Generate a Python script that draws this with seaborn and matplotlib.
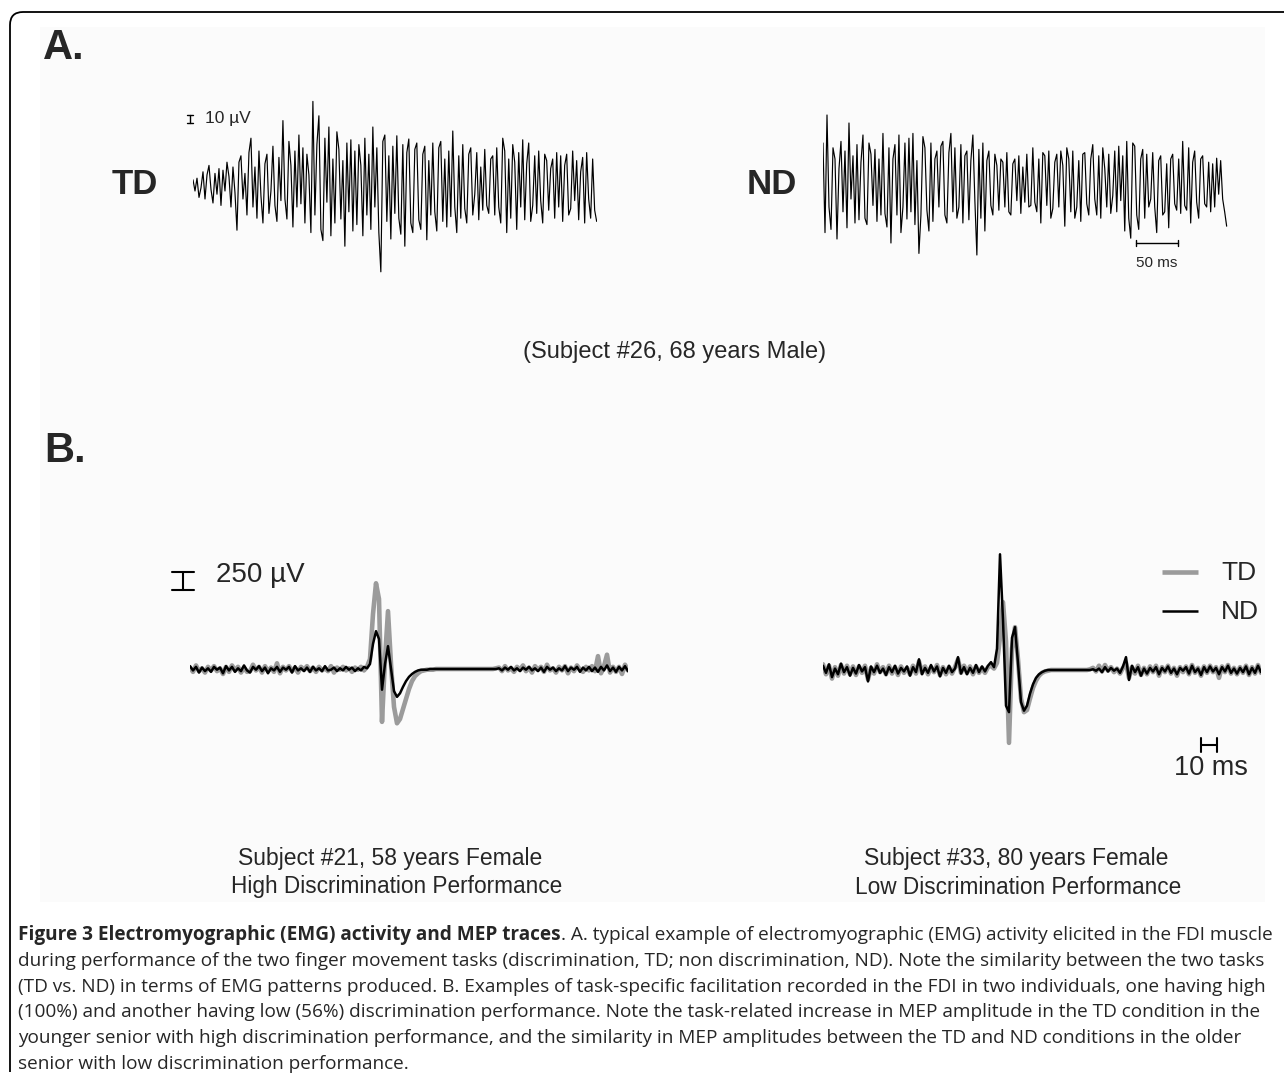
import numpy as np
import pandas as pd
import matplotlib
matplotlib.use("Agg")
import matplotlib.pyplot as plt
import seaborn as sns
from matplotlib.patches import Rectangle, PathPatch
from matplotlib.path import Path

sns.set_style("white")
plt.rcParams['font.family'] = ['Liberation Sans', 'DejaVu Sans']

# ---------------- DATA ----------------
# Panel A: EMG traces (µV), sample period in ms
emg_dt_ms = 2.38
emg_td = [4, -10, 6, -18, -6, 14, -20, 10, 22, -8, -25, 12, -14, 18, -28,
          16, -10, 26, 8, -30, 20, -12, -59, 26, 34, -20, 12, -40, 38, 56,
          -30, 20, -44, 40, -16, -50, 24, 36, -38, -10, 46, -28, -48, 32, -22,
          78, -20, -45, 52, 22, -55, 40, -30, 60, -26, 44, -50, 36, 10, -62,
          102, -40, 48, 84, -58, -72, 56, -24, 70, -66, 30, -50, 64, 42, -45,
          28, -79, 50, -36, 54, -60, 40, -52, 48, 22, -66, 56, -40, 36, -58,
          70, -30, 44, -62, -111, 52, 60, -48, 34, -70, 46, -38, 59, -44, -64,
          48, -79, 38, 55, -50, -62, 42, 50, -46, -58, 36, 46, -71, 28, -40,
          50, -36, -60, 44, 52, -48, 30, -55, 40, -42, 65, -30, -62, 34, -44,
          48, -32, -50, 36, 44, -40, -14, 38, -46, 20, -34, 42, -28, -38, 30,
          34, -40, 44, -30, -50, 56, 40, -62, 30, -44, 48, 26, -58, 38, -30,
          54, -46, 24, 50, -48, -28, 34, -38, 40, -22, -50, 36, 28, -34, 18,
          30, -44, 38, -30, 34, -48, 22, 36, -40, -32, 40, -22, 28, -46, 14,
          32, -50, 38, -20, -44, 30, -34, -48]
emg_nd = [50, -62, 85, -30, -58, 44, 30, -70, 18, 52, -36, 40, -56, 75, -20,
          34, -50, 48, -46, 26, 60, -44, -52, 50, 36, -28, 42, -48, 30, -40,
          62, -38, -55, 44, -75, 30, 48, -40, 60, -62, -30, 50, -45, 56, -36,
          62, -52, 28, -88, -40, 58, 44, -34, -60, 50, -48, 30, 40, -30, 46,
          52, -40, -50, 38, 62, -36, 44, -44, -30, 48, -50, 34, 40, -46, 28,
          60, -22, -90, 42, -44, 50, -60, 28, 40, -28, -40, 36, 22, -34, 30,
          26, -30, 38, -36, -40, 24, 30, -22, 34, -38, 20, -24, 36, -30, -28,
          44, -24, -36, 30, -50, 38, 34, -28, 40, -44, -32, 26, 36, -30, 40,
          22, -54, 44, 30, -36, 40, -44, -30, 28, -48, 36, 38, -26, -40, 30,
          48, -20, -40, 34, -44, 44, 18, -30, 36, -38, -16, 40, -36, 46, -22,
          34, -60, 52, -44, -69, 50, 46, -40, -58, 30, 42, -44, 36, -30, -20,
          38, -30, -62, 28, 34, -40, -36, 24, -56, 30, 36, -26, -34, 30, -38,
          52, -28, -34, 44, -50, 26, 40, -24, -44, 30, 34, -26, -30, 26, -36,
          24, -30, 31, -14, 28, -20, -36, -54]

# Panel B: MEP traces (µV), sample period in ms
mep_dt_ms = 1.875
mep_high_td = [20, -40, 50, -30, 10, -50, 30, -20, 40, -30,
               10, -70, 30, -40, 50, -20, 30, -50, 20, -40,
               -30, 60, -20, 30, -50, 40, -30, 20, -40, 80,
               -60, 30, -20, 40, -30, 20, -50, 30, -10, 40,
               -30, 20, -40, 30, -20, 10, -30, 40, -50, 20,
               -10, 30, -20, 10, -40, 20, -10, 30, -20,
               30, 140, 770, 1200, 980, -740, 140, 810, 70, -530,
               -760, -700, -560, -420, -280, -170, -100, -60, -30,
               -20, -10, -10, -10, 0, 0, 0, 0, 0, 0, 0, 0, 0, 0, 0, 0, 0, 0, 0, 0, 0, 0, 0, 0, 10,
               20, -30, 40, -20, 10, -40, 30, -10, 50, -30,
               20, -50, 40, -10, 30, -40, 60, -20, 10, -50,
               30, -20, 40, -60, 20, -30, 50, -10, -40, 30,
               -20, 40, -30, 180, -60, 40, 200, -50, 30, -40,
               30, -70, 60, -20]
mep_high_nd = [40, -20, 30, -50, 20, -30, 10, -40, 30, -10,
               20, -60, 40, -20, 30, -40, 10, -30, 50, -20,
               -50, 30, -10, 40, -30, 20, -60, 10, -20, 30,
               -40, 20, -10, 30, -50, 40, -20, 10, -30, 20,
               -40, 30, -20, 10, -30, 40, -20, -10, 20, -30,
               10, -20, 30, -10, 20, -30, 10, -20, 30,
               10, 70, 350, 530, 420, -290, 70, 320, 0, -310,
               -390, -340, -250, -170, -110, -70, -40, -20, -10,
               -10, -10, 0, 0, 0, 0, 0, 0, 0, 0, 0, 0, 0, 0, 0, 0, 0, 0, 0, 0, 0, 0, 0, 0, 0,
               10, -20, 20, -10, 30, -20, 10, -30, 20, -10,
               30, -20, 10, -30, 20, -40, 30, -10, 20, -30,
               10, -20, 40, -30, 20, -10, 30, -40, 20, -20,
               30, -30, 20, -40, 30, -20, 50, -30, 20, -40,
               30, -20, 40, -30]
mep_low_td = [80, -60, 60, -120, 40, -80, 70, -50, 60, -60,
              50, -70, 50, -40, 60, -130, 30, -50, 80, -30,
              40, -60, 60, -50, 40, -70, 50, -40, 30, -60,
              60, -50, 120, -40, 50, -60, 40, -30, 70, -70,
              40, -60, 40, -50, 40, 150, -40, 60, -40, 50,
              -60, 50, -40, 30, -40, 40, 60,
              20, 100, 450, 950, 400, -1020, 300, 600, 150, -400,
              -590, -560, -400, -250, -150, -80, -40, -20,
              -10, 0, 0, 0, 0, 0, 0, 0, 0, 0, 0, 0, 0, 0, 10, 30, -20,
              60, -20, 70, -10, 40, -30, 20, -50, 30, 100,
              -110, 40, -50, 60, -70, 30, -60, 50, -30, 60,
              -80, 40, -30, 60, -50, 30, -80, 40, -30, 50,
              -60, 70, -40, 30, -80, 50, -40, 60, -30, 40,
              -110, 50, -30, 70, -50, 30, -60, 40, -40, 60,
              -70, 40, -50, 70, -40]
mep_low_nd = [60, -40, 80, -100, 20, -60, 90, -30, 40, -80,
              30, -50, 70, -20, 40, -160, 50, -30, 60, -40,
              20, -70, 40, -30, 60, -50, 30, -20, 50, -80,
              40, -30, 150, -60, 30, -40, 70, -20, 50, -90,
              30, -40, 60, -30, 20, 180, -50, 40, -60, 30,
              -40, 70, -30, 50, -20, 60, 110,
              40, 300, 1620, 700, -500, -590, 450, 600, 100, -450,
              -570, -500, -330, -200, -110, -60, -30, -10,
              0, 0, 0, 0, 0, 0, 0, 0, 0, 0, 0, 0, 0, 0, 0, 10, -10,
              20, -30, 40, -20, 30, -10, 20, -40, 50, 180,
              -140, 60, -30, 40, -80, 20, -50, 30, -20, 40,
              -60, 30, -20, 50, -40, 20, -60, 30, -10, 40,
              -50, 60, -30, 20, -70, 40, -30, 50, -20, 30,
              -60, 40, -20, 60, -40, 20, -50, 30, -30, 50,
              -60, 30, -40, 60, -30]

caption_bold = "Figure 3 Electromyographic (EMG) activity and MEP traces"
caption_lines = [
    ". A. typical example of electromyographic (EMG) activity elicited in the FDI muscle",
    "during performance of the two finger movement tasks (discrimination, TD; non discrimination, ND). Note the similarity between the two tasks",
    "(TD vs. ND) in terms of EMG patterns produced. B. Examples of task-specific facilitation recorded in the FDI in two individuals, one having high",
    "(100%) and another having low (56%) discrimination performance. Note the task-related increase in MEP amplitude in the TD condition in the",
    "younger senior with high discrimination performance, and the similarity in MEP amplitudes between the TD and ND conditions in the older",
    "senior with low discrimination performance.",
]

# ---------------- LAYOUT ----------------
W, H = 1284, 1075
fig = plt.figure(figsize=(W / 100, H / 100), dpi=100)
fig.patch.set_facecolor('white')
bg = fig.add_axes([0, 0, 1, 1])
bg.set_xlim(0, W)
bg.set_ylim(H, 0)
bg.axis('off')

bg.add_patch(Rectangle((40, 27), 1225, 875, facecolor='#fbfbfb', edgecolor='none', zorder=0))
border = Path([(10, 1072), (10, 25), (10, 12), (23, 12), (1290, 12)],
              [Path.MOVETO, Path.LINETO, Path.CURVE3, Path.CURVE3, Path.LINETO])
bg.add_patch(PathPatch(border, fill=False, lw=1.3, edgecolor='black', zorder=1))


def px_axes(x0, y0, x1, y1):
    ax = fig.add_axes([x0 / W, 1 - y1 / H, (x1 - x0) / W, (y1 - y0) / H])
    ax.axis('off')
    ax.patch.set_alpha(0)
    return ax


def trace_df(vals, dt):
    return pd.DataFrame({'t': np.arange(len(vals)) * dt, 'v': vals})


# Panel labels
bg.text(43, 48, "A.", fontsize=30, fontweight='bold', va='center', ha='left')
bg.text(44, 451, "B.", fontsize=30, fontweight='bold', va='center', ha='left')
bg.text(112, 184, "TD", fontsize=25, fontweight='bold', va='center', ha='left')
bg.text(747, 184, "ND", fontsize=25, fontweight='bold', va='center', ha='left')

# Panel A traces
msA = 1.191  # ms per pixel
uvA = 1.25   # µV per pixel
axA1 = px_axes(193, 90, 597, 280)
sns.lineplot(data=trace_df(emg_td, emg_dt_ms), x='t', y='v', ax=axA1, color='black',
             linewidth=0.85, estimator=None, legend=False)
axA1.set_xlim(0, 404 * msA)
axA1.set_ylim((183 - 280) * uvA, (183 - 90) * uvA)
axA1.axis('off')
# 10 µV scale bar
xb = -3.6
axA1.plot([xb, xb], [75, 85], color='black', lw=1.0, clip_on=False)
axA1.plot([xb - 3.5, xb + 3.5], [75, 75], color='black', lw=1.0, clip_on=False)
axA1.plot([xb - 3.5, xb + 3.5], [85, 85], color='black', lw=1.0, clip_on=False)
bg.text(205, 118, "10 µV", fontsize=12.5, va='center', ha='left')

axA2 = px_axes(823, 90, 1228, 280)
sns.lineplot(data=trace_df(emg_nd, emg_dt_ms), x='t', y='v', ax=axA2, color='black',
             linewidth=0.85, estimator=None, legend=False)
axA2.set_xlim(0, 405 * msA)
axA2.set_ylim((183 - 280) * uvA, (183 - 90) * uvA)
axA2.axis('off')
# 50 ms scale bar
x0 = (1136 - 823) * msA
yb = (183 - 243) * uvA
axA2.plot([x0, x0 + 50], [yb, yb], color='black', lw=1.0, clip_on=False)
axA2.plot([x0, x0], [yb - 4, yb + 4], color='black', lw=1.0, clip_on=False)
axA2.plot([x0 + 50, x0 + 50], [yb - 4, yb + 4], color='black', lw=1.0, clip_on=False)
bg.text(1157, 263, "50 ms", fontsize=11, va='center', ha='center')

bg.text(675, 352, "(Subject #26, 68 years Male)", fontsize=17, va='center', ha='center')

# Panel B traces
msB = 0.625
uvB = 14.0
gray = '#9b9b9b'

axB1 = px_axes(190, 540, 628, 780)
sns.lineplot(data=trace_df(mep_high_td, mep_dt_ms), x='t', y='v', ax=axB1, color=gray,
             linewidth=3.3, estimator=None, legend=False)
sns.lineplot(data=trace_df(mep_high_nd, mep_dt_ms), x='t', y='v', ax=axB1, color='black',
             linewidth=1.8, estimator=None, legend=False)
axB1.set_xlim(0, 438 * msB)
axB1.set_ylim((669 - 780) * uvB, (669 - 540) * uvB)
axB1.axis('off')
# 250 µV scale bar
xs = (183 - 190) * msB
ys = (669 - 590) * uvB
axB1.plot([xs, xs], [ys, ys + 250], color='black', lw=1.5, clip_on=False)
axB1.plot([xs - 6.9, xs + 6.9], [ys, ys], color='black', lw=1.5, clip_on=False)
axB1.plot([xs - 6.9, xs + 6.9], [ys + 250, ys + 250], color='black', lw=1.5, clip_on=False)
bg.text(216, 575, "250 µV", fontsize=20, va='center', ha='left')

axB2 = px_axes(823, 540, 1261, 780)
sns.lineplot(data=trace_df(mep_low_td, mep_dt_ms), x='t', y='v', ax=axB2, color=gray,
             linewidth=3.3, estimator=None, legend=False)
sns.lineplot(data=trace_df(mep_low_nd, mep_dt_ms), x='t', y='v', ax=axB2, color='black',
             linewidth=1.8, estimator=None, legend=False)
axB2.set_xlim(0, 438 * msB)
axB2.set_ylim((670 - 780) * uvB, (670 - 540) * uvB)
axB2.axis('off')
# 10 ms scale bar
xh = (1201 - 823) * msB
yh = (670 - 745) * uvB
axB2.plot([xh, xh + 10], [yh, yh], color='black', lw=1.5, clip_on=False)
axB2.plot([xh, xh], [yh - 100, yh + 100], color='black', lw=1.5, clip_on=False)
axB2.plot([xh + 10, xh + 10], [yh - 100, yh + 100], color='black', lw=1.5, clip_on=False)
bg.text(1211, 768, "10 ms", fontsize=19.5, va='center', ha='center')

# Legend
bg.plot([1162, 1198], [572, 572], color=gray, lw=3.3, solid_capstyle='butt')
bg.plot([1162, 1198], [611, 611], color='black', lw=1.8, solid_capstyle='butt')
bg.text(1221, 573, "TD", fontsize=19, va='center', ha='left')
bg.text(1221, 612, "ND", fontsize=19, va='center', ha='left')

# Subject labels
bg.text(390, 859, "Subject #21, 58 years Female", fontsize=16.5, va='center', ha='center')
bg.text(397, 887, "High Discrimination Performance", fontsize=16.3, va='center', ha='center')
bg.text(1016, 859, "Subject #33, 80 years Female", fontsize=16.5, va='center', ha='center')
bg.text(1018, 887, "Low Discrimination Performance", fontsize=16.3, va='center', ha='center')

# Caption
cap_fs = 13.7
cap_font = ['Open Sans', 'DejaVu Sans']
renderer = fig.canvas.get_renderer()
y0 = 940
t1 = bg.text(18, y0, caption_bold, fontsize=cap_fs, fontweight='bold', family=cap_font,
             va='baseline', ha='left')
bb = t1.get_window_extent(renderer=renderer)
bg.text(bb.x1, y0, caption_lines[0], fontsize=cap_fs, family=cap_font, va='baseline', ha='left')
for i, line in enumerate(caption_lines[1:], start=1):
    bg.text(18, y0 + 25.8 * i, line, fontsize=cap_fs, family=cap_font, va='baseline', ha='left')

fig.savefig("out.png", dpi=100, facecolor='white')
